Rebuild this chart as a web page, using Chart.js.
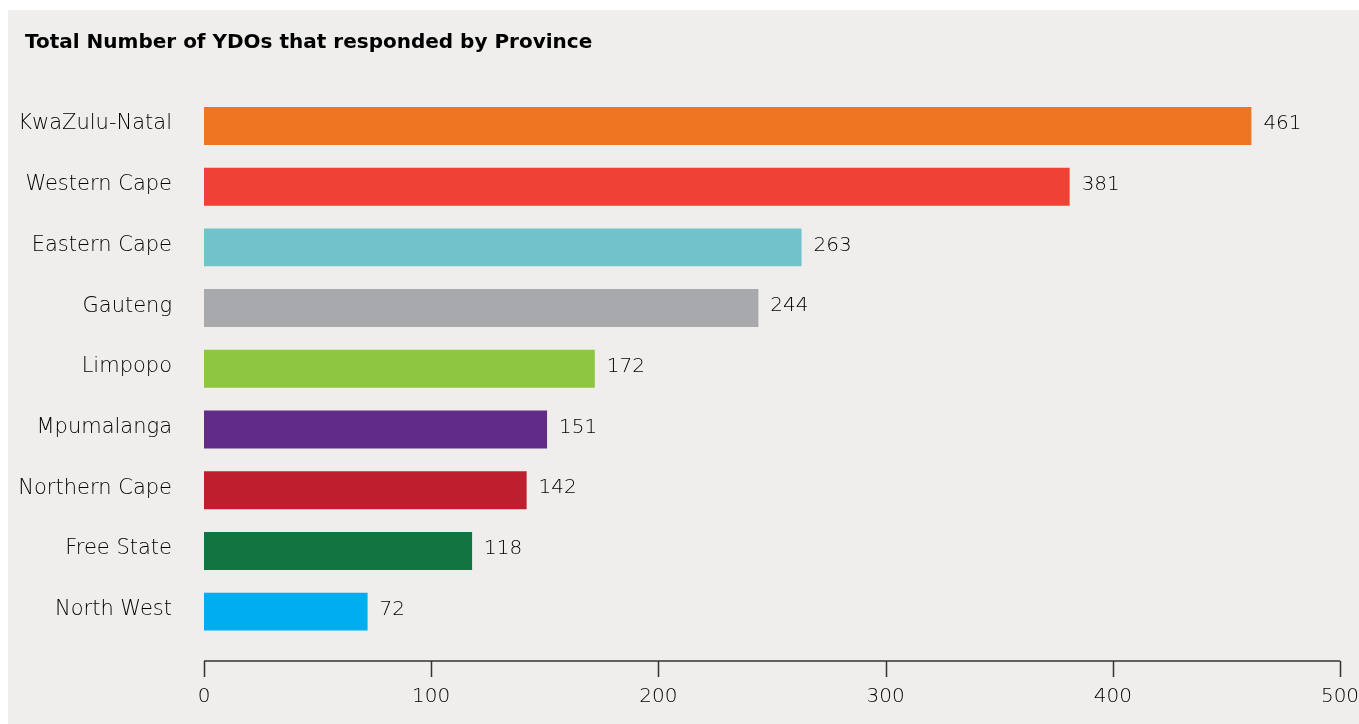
<!DOCTYPE html>
<html>
<head>
<meta charset="utf-8">
<script src="https://cdn.jsdelivr.net/npm/chart.js@4.4.1/dist/chart.umd.min.js"></script>
<style>
  html, body { margin: 0; padding: 0; background: #ffffff; }
  #panel {
    position: absolute;
    left: 8px; top: 10px;
    width: 1351px; height: 714px;
    background: #efeeec;
  }
</style>
</head>
<body>
<div id="panel"><canvas id="provinceChart"></canvas></div>
<script>
// Provinces and number of YDOs that responded
const provinces = ["KwaZulu-Natal", "Western Cape", "Eastern Cape", "Gauteng", "Limpopo",
  "Mpumalanga", "Northern Cape", "Free State", "North West"];
const responses = [461, 381, 263, 244, 172, 151, 142, 118, 72];
const barColors = ["#ee7623", "#ef4136", "#72c2c9", "#a7a9ac", "#8dc63f",
  "#612c87", "#be1e2d", "#127440", "#00aeef"];
const xTicks = [0, 100, 200, 300, 400, 500];

const FONT = "'DejaVu Sans', sans-serif";
const TEXT = "#000000";

// title is indented further than the province names
const titleIndent = {
  id: "titleIndent",
  afterLayout(chart) {
    chart.titleBlock.left += 9;
  }
};

// axis line sits a little below the bars, with ticks hanging down
const axisLine = {
  id: "axisLine",
  afterDraw(chart) {
    const { ctx, chartArea, scales } = chart;
    const x = scales.x;
    const y0 = chartArea.bottom + 19;
    ctx.save();
    ctx.strokeStyle = "#333333";
    ctx.lineWidth = 1.5;
    ctx.beginPath();
    ctx.moveTo(x.getPixelForValue(xTicks[0]), y0);
    ctx.lineTo(x.getPixelForValue(xTicks[xTicks.length - 1]), y0);
    xTicks.forEach(t => {
      const px = Math.round(x.getPixelForValue(t)) + 0.5;
      ctx.moveTo(px, y0);
      ctx.lineTo(px, y0 + 16);
    });
    ctx.stroke();
    ctx.restore();
  }
};

// value written just past the end of each bar
const valueLabels = {
  id: "valueLabels",
  afterDatasetsDraw(chart) {
    const { ctx } = chart;
    const meta = chart.getDatasetMeta(0);
    ctx.save();
    ctx.font = "300 20px " + FONT;
    ctx.fillStyle = TEXT;
    ctx.textBaseline = "middle";
    ctx.textAlign = "left";
    meta.data.forEach((bar, i) => {
      ctx.fillText(String(responses[i]), bar.x + 12, bar.y - 2);
    });
    ctx.restore();
  }
};

new Chart(document.getElementById("provinceChart"), {
  type: "bar",
  data: {
    labels: provinces,
    datasets: [{
      data: responses,
      backgroundColor: barColors,
      borderWidth: 0,
      barPercentage: 0.625,
      categoryPercentage: 1
    }]
  },
  options: {
    indexAxis: "y",
    responsive: true,
    maintainAspectRatio: false,
    animation: false,
    layout: { padding: { left: 8, right: 19, top: 0, bottom: 0 } },
    plugins: {
      legend: { display: false },
      tooltip: { enabled: false },
      title: {
        display: true,
        text: "Total Number of YDOs that responded by Province",
        align: "start",
        color: "#000000",
        font: { family: FONT, size: 20, weight: "bold" },
        padding: { top: 21, bottom: 40.6 }
      }
    },
    scales: {
      x: {
        min: 0,
        max: 500,
        afterBuildTicks(scale) {
          scale.ticks = xTicks.map(v => ({ value: v }));
        },
        afterFit(scale) {
          scale.height = 82;
          scale.paddingRight = 0;
          scale.paddingLeft = 0;
        },
        grid: { display: false, drawTicks: false },
        border: { display: false },
        ticks: {
          color: TEXT,
          padding: 43,
          font: { family: FONT, size: 20, weight: "300" }
        }
      },
      y: {
        afterFit(scale) { scale.width = 188; },
        grid: { display: false, drawTicks: false },
        border: { display: false },
        ticks: {
          color: TEXT,
          padding: 32,
          font: { family: FONT, size: 21, weight: "300" },
          labelOffset: -2
        }
      }
    }
  },
  plugins: [titleIndent, axisLine, valueLabels]
});
</script>
</body>
</html>
